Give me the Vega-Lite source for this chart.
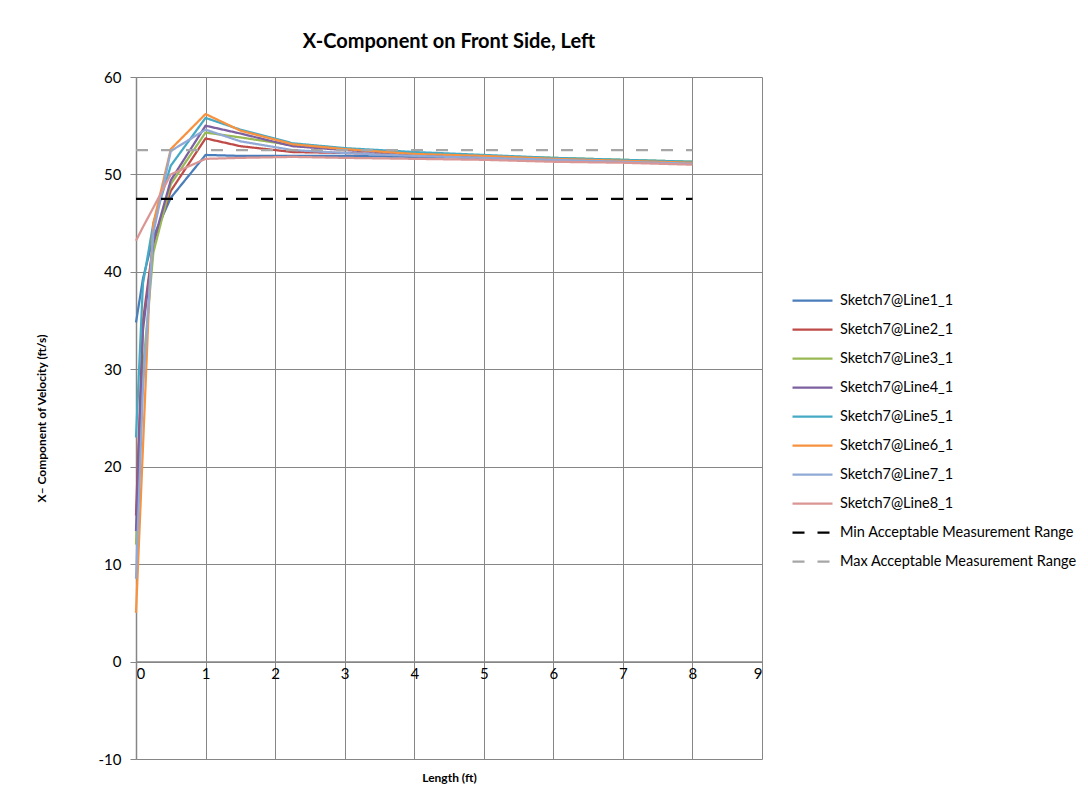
{
  "$schema": "https://vega.github.io/schema/vega-lite/v6.json",
  "width": 626,
  "height": 682,
  "autosize": {"type": "none"},
  "padding": {"left": 136, "top": 77, "right": 326, "bottom": 34},
  "background": "white",
  "title": {
    "text": "X-Component on Front Side, Left",
    "font": "Lato",
    "fontSize": 20,
    "fontWeight": "bold",
    "color": "black",
    "anchor": "middle",
    "offset": 18
  },
  "datasets": {
    "pts": [
      {"series": "Sketch7@Line1_1", "x": 0, "v": 34.8}, {"series": "Sketch7@Line1_1", "x": 0.1, "v": 39.3}, {"series": "Sketch7@Line1_1", "x": 0.25, "v": 43.6}, {"series": "Sketch7@Line1_1", "x": 0.5, "v": 47.6}, {"series": "Sketch7@Line1_1", "x": 1, "v": 52.0}, {"series": "Sketch7@Line1_1", "x": 1.5, "v": 51.9}, {"series": "Sketch7@Line1_1", "x": 2.25, "v": 51.9}, {"series": "Sketch7@Line1_1", "x": 3, "v": 51.9}, {"series": "Sketch7@Line1_1", "x": 4, "v": 51.8}, {"series": "Sketch7@Line1_1", "x": 5, "v": 51.7}, {"series": "Sketch7@Line1_1", "x": 6, "v": 51.5}, {"series": "Sketch7@Line1_1", "x": 7, "v": 51.4}, {"series": "Sketch7@Line1_1", "x": 8, "v": 51.2},
      {"series": "Sketch7@Line2_1", "x": 0, "v": 15}, {"series": "Sketch7@Line2_1", "x": 0.1, "v": 35}, {"series": "Sketch7@Line2_1", "x": 0.25, "v": 43}, {"series": "Sketch7@Line2_1", "x": 0.5, "v": 48.3}, {"series": "Sketch7@Line2_1", "x": 1, "v": 53.7}, {"series": "Sketch7@Line2_1", "x": 1.5, "v": 52.9}, {"series": "Sketch7@Line2_1", "x": 2.25, "v": 52.3}, {"series": "Sketch7@Line2_1", "x": 3, "v": 52.2}, {"series": "Sketch7@Line2_1", "x": 4, "v": 52.0}, {"series": "Sketch7@Line2_1", "x": 5, "v": 51.8}, {"series": "Sketch7@Line2_1", "x": 6, "v": 51.6}, {"series": "Sketch7@Line2_1", "x": 7, "v": 51.4}, {"series": "Sketch7@Line2_1", "x": 8, "v": 51.2},
      {"series": "Sketch7@Line3_1", "x": 0, "v": 12}, {"series": "Sketch7@Line3_1", "x": 0.1, "v": 30}, {"series": "Sketch7@Line3_1", "x": 0.25, "v": 42}, {"series": "Sketch7@Line3_1", "x": 0.5, "v": 49.0}, {"series": "Sketch7@Line3_1", "x": 1, "v": 54.3}, {"series": "Sketch7@Line3_1", "x": 1.5, "v": 53.8}, {"series": "Sketch7@Line3_1", "x": 2.25, "v": 53.0}, {"series": "Sketch7@Line3_1", "x": 3, "v": 52.6}, {"series": "Sketch7@Line3_1", "x": 4, "v": 52.2}, {"series": "Sketch7@Line3_1", "x": 5, "v": 51.9}, {"series": "Sketch7@Line3_1", "x": 6, "v": 51.7}, {"series": "Sketch7@Line3_1", "x": 7, "v": 51.5}, {"series": "Sketch7@Line3_1", "x": 8, "v": 51.3},
      {"series": "Sketch7@Line4_1", "x": 0, "v": 13.4}, {"series": "Sketch7@Line4_1", "x": 0.1, "v": 34}, {"series": "Sketch7@Line4_1", "x": 0.25, "v": 43}, {"series": "Sketch7@Line4_1", "x": 0.5, "v": 49.4}, {"series": "Sketch7@Line4_1", "x": 1, "v": 55.0}, {"series": "Sketch7@Line4_1", "x": 1.5, "v": 54.2}, {"series": "Sketch7@Line4_1", "x": 2.25, "v": 52.9}, {"series": "Sketch7@Line4_1", "x": 3, "v": 52.5}, {"series": "Sketch7@Line4_1", "x": 4, "v": 52.1}, {"series": "Sketch7@Line4_1", "x": 5, "v": 51.8}, {"series": "Sketch7@Line4_1", "x": 6, "v": 51.6}, {"series": "Sketch7@Line4_1", "x": 7, "v": 51.4}, {"series": "Sketch7@Line4_1", "x": 8, "v": 51.2},
      {"series": "Sketch7@Line5_1", "x": 0, "v": 23}, {"series": "Sketch7@Line5_1", "x": 0.1, "v": 38.8}, {"series": "Sketch7@Line5_1", "x": 0.25, "v": 45}, {"series": "Sketch7@Line5_1", "x": 0.5, "v": 50.9}, {"series": "Sketch7@Line5_1", "x": 1, "v": 55.8}, {"series": "Sketch7@Line5_1", "x": 1.5, "v": 54.6}, {"series": "Sketch7@Line5_1", "x": 2.25, "v": 53.2}, {"series": "Sketch7@Line5_1", "x": 3, "v": 52.7}, {"series": "Sketch7@Line5_1", "x": 4, "v": 52.3}, {"series": "Sketch7@Line5_1", "x": 5, "v": 52.0}, {"series": "Sketch7@Line5_1", "x": 6, "v": 51.7}, {"series": "Sketch7@Line5_1", "x": 7, "v": 51.5}, {"series": "Sketch7@Line5_1", "x": 8, "v": 51.3},
      {"series": "Sketch7@Line6_1", "x": 0, "v": 5}, {"series": "Sketch7@Line6_1", "x": 0.1, "v": 22}, {"series": "Sketch7@Line6_1", "x": 0.2, "v": 39}, {"series": "Sketch7@Line6_1", "x": 0.25, "v": 45}, {"series": "Sketch7@Line6_1", "x": 0.5, "v": 52.6}, {"series": "Sketch7@Line6_1", "x": 1, "v": 56.2}, {"series": "Sketch7@Line6_1", "x": 1.5, "v": 54.5}, {"series": "Sketch7@Line6_1", "x": 2.25, "v": 53.1}, {"series": "Sketch7@Line6_1", "x": 3, "v": 52.6}, {"series": "Sketch7@Line6_1", "x": 4, "v": 52.1}, {"series": "Sketch7@Line6_1", "x": 5, "v": 51.9}, {"series": "Sketch7@Line6_1", "x": 6, "v": 51.6}, {"series": "Sketch7@Line6_1", "x": 7, "v": 51.4}, {"series": "Sketch7@Line6_1", "x": 8, "v": 51.2},
      {"series": "Sketch7@Line7_1", "x": 0, "v": 8.5}, {"series": "Sketch7@Line7_1", "x": 0.1, "v": 28}, {"series": "Sketch7@Line7_1", "x": 0.25, "v": 44}, {"series": "Sketch7@Line7_1", "x": 0.5, "v": 52.4}, {"series": "Sketch7@Line7_1", "x": 1, "v": 54.6}, {"series": "Sketch7@Line7_1", "x": 1.5, "v": 53.4}, {"series": "Sketch7@Line7_1", "x": 2.25, "v": 52.5}, {"series": "Sketch7@Line7_1", "x": 3, "v": 52.2}, {"series": "Sketch7@Line7_1", "x": 4, "v": 51.9}, {"series": "Sketch7@Line7_1", "x": 5, "v": 51.7}, {"series": "Sketch7@Line7_1", "x": 6, "v": 51.5}, {"series": "Sketch7@Line7_1", "x": 7, "v": 51.3}, {"series": "Sketch7@Line7_1", "x": 8, "v": 51.1},
      {"series": "Sketch7@Line8_1", "x": 0, "v": 43.2}, {"series": "Sketch7@Line8_1", "x": 0.1, "v": 44.6}, {"series": "Sketch7@Line8_1", "x": 0.25, "v": 46.6}, {"series": "Sketch7@Line8_1", "x": 0.5, "v": 50.0}, {"series": "Sketch7@Line8_1", "x": 1, "v": 51.6}, {"series": "Sketch7@Line8_1", "x": 1.5, "v": 51.7}, {"series": "Sketch7@Line8_1", "x": 2.25, "v": 51.8}, {"series": "Sketch7@Line8_1", "x": 3, "v": 51.7}, {"series": "Sketch7@Line8_1", "x": 4, "v": 51.6}, {"series": "Sketch7@Line8_1", "x": 5, "v": 51.5}, {"series": "Sketch7@Line8_1", "x": 6, "v": 51.3}, {"series": "Sketch7@Line8_1", "x": 7, "v": 51.2}, {"series": "Sketch7@Line8_1", "x": 8, "v": 51.0},
      {"series": "Min Acceptable Measurement Range", "x": 0, "v": 47.5}, {"series": "Min Acceptable Measurement Range", "x": 8, "v": 47.5},
      {"series": "Max Acceptable Measurement Range", "x": 0, "v": 52.5}, {"series": "Max Acceptable Measurement Range", "x": 8, "v": 52.5}
    ]
  },
  "data": {"name": "pts"},
  "mark": {"type": "line", "strokeCap": "butt", "strokeJoin": "round"},
  "encoding": {
    "x": {
      "field": "x", "type": "quantitative",
      "scale": {"domain": [0, 9], "nice": false, "zero": false},
      "axis": {
        "title": "Length (ft)",
        "values": [0, 1, 2, 3, 4, 5, 6, 7, 8, 9],
        "offset": -97.4,
        "ticks": false,
        "labelPadding": 5,
        "titlePadding": 91,
        "domainColor": "#868686",
        "domainWidth": 1.5,
        "gridColor": "#868686",
        "gridOpacity": 1,
        "gridWidth": 1
      }
    },
    "y": {
      "field": "v", "type": "quantitative",
      "scale": {"domain": [-10, 60], "nice": false, "zero": false},
      "axis": {
        "title": "X\u2013 Component of Velocity (ft/s)",
        "values": [-10, 0, 10, 20, 30, 40, 50, 60],
        "labelExpr": "datum.value < 0 ? '-' + abs(datum.value) : '' + datum.value",
        "tickSize": 6,
        "tickColor": "#868686",
        "labelPadding": 9,
        "titlePadding": 50,
        "domainColor": "#868686",
        "domainWidth": 1.5,
        "gridColor": "#868686",
        "gridOpacity": 1,
        "gridWidth": 1
      }
    },
    "color": {
      "field": "series", "type": "nominal", "title": null,
      "scale": {
        "domain": ["Sketch7@Line1_1", "Sketch7@Line2_1", "Sketch7@Line3_1", "Sketch7@Line4_1", "Sketch7@Line5_1", "Sketch7@Line6_1", "Sketch7@Line7_1", "Sketch7@Line8_1", "Min Acceptable Measurement Range", "Max Acceptable Measurement Range"],
        "range": ["#4A7EBB", "#BE4B48", "#98B954", "#7D60A0", "#46AAC5", "#F69240", "#91A9D6", "#D99694", "#000000", "#A6A6A6"]
      },
      "legend": {
        "orient": "none",
        "legendX": 665,
        "legendY": 212,
        "symbolType": "M-2,0H2",
        "symbolSize": 400,
        "labelOffset": 16,
        "rowPadding": 11,
        "padding": 0,
        "labelFont": "Lato",
        "labelFontSize": 14.5,
        "labelColor": "black",
        "labelLimit": 400
      }
    },
    "strokeDash": {
      "field": "series", "type": "nominal", "title": null,
      "scale": {
        "domain": ["Sketch7@Line1_1", "Sketch7@Line2_1", "Sketch7@Line3_1", "Sketch7@Line4_1", "Sketch7@Line5_1", "Sketch7@Line6_1", "Sketch7@Line7_1", "Sketch7@Line8_1", "Min Acceptable Measurement Range", "Max Acceptable Measurement Range"],
        "range": [[1, 0], [1, 0], [1, 0], [1, 0], [1, 0], [1, 0], [1, 0], [1, 0], [12, 13], [12, 13]]
      }
    },
    "strokeWidth": {
      "field": "series", "type": "nominal", "title": null,
      "scale": {
        "domain": ["Sketch7@Line1_1", "Sketch7@Line2_1", "Sketch7@Line3_1", "Sketch7@Line4_1", "Sketch7@Line5_1", "Sketch7@Line6_1", "Sketch7@Line7_1", "Sketch7@Line8_1", "Min Acceptable Measurement Range", "Max Acceptable Measurement Range"],
        "range": [2.25, 2.25, 2.25, 2.25, 2.25, 2.25, 2.25, 2.25, 3.5, 3.5]
      }
    }
  },
  "config": {
    "font": "Lato",
    "view": {"stroke": null},
    "axis": {
      "labelFont": "Lato",
      "labelFontSize": 15,
      "labelColor": "black",
      "titleFont": "Lato",
      "titleFontSize": 12,
      "titleFontWeight": "bold",
      "titleColor": "black"
    }
  }
}
